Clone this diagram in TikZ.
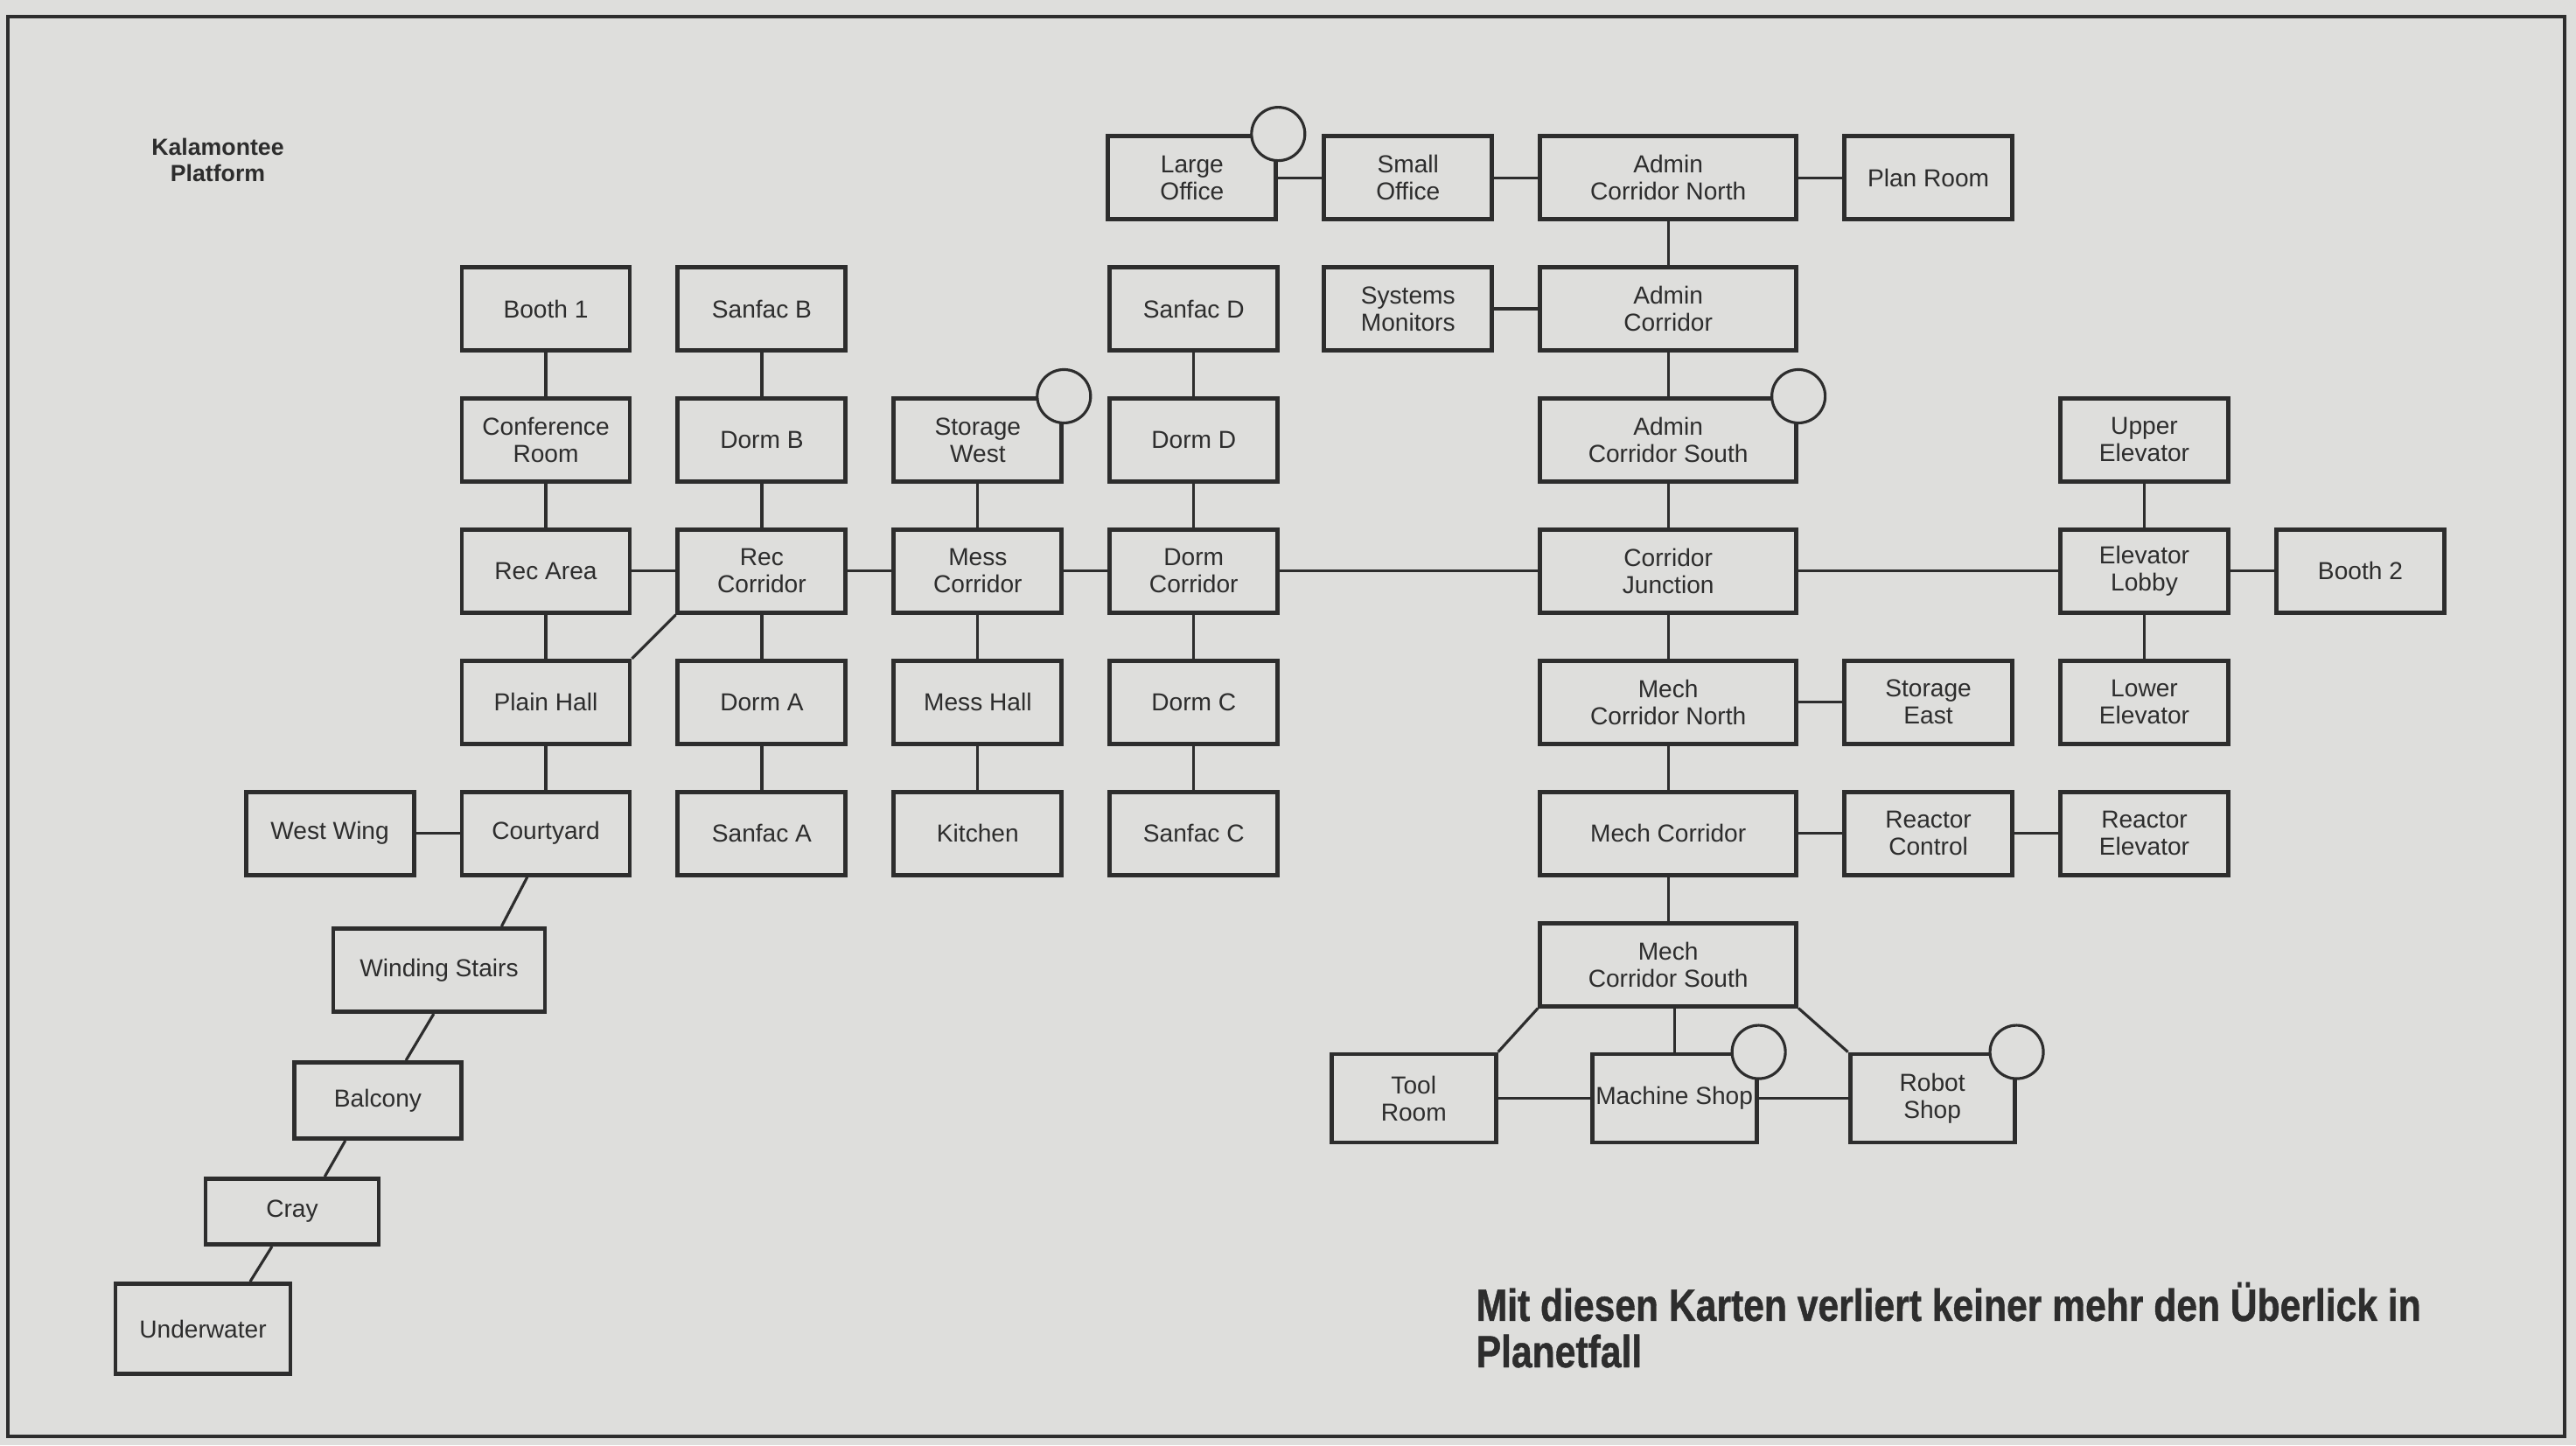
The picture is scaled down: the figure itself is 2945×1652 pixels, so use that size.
\documentclass[tikz,border=0pt]{standalone}
\usepackage{fontspec}
\setmainfont{Liberation Sans}
\newfontfamily\capfont{Liberation Sans}[FakeStretch=0.825, FakeBold=0.8]
\usetikzlibrary{positioning}
\definecolor{paper}{RGB}{222,222,220}
\definecolor{ink}{RGB}{45,45,45}

\begin{document}
\begin{tikzpicture}[
    x=0.1mm, y=-0.1mm,
    node distance=5mm,
    every node/.style={font=\fontsize{8}{8.8}\selectfont, text=ink},
    room/.style={rectangle, draw=ink, line width=1.4pt, minimum width=19.2mm, minimum height=9.5mm, inner sep=1pt, align=center},
    wide/.style={room, minimum width=29.3mm},
    shop/.style={room, minimum width=18.8mm, minimum height=10.1mm},
    lift/.style={circle, draw=ink, line width=0.9pt, fill=paper, minimum size=6.1mm, inner sep=0pt},
    link/.style={draw=ink, line width=0.9pt}
]
    % Paper and frame
    \fill[paper] (0,0) rectangle (2945,1652);
    \draw[ink, line width=1.1pt] (9,19) rectangle (2932,1642);

    \node[align=center, font=\fontsize{7.6}{8.4}\selectfont\bfseries] (title) at (249,183) {Kalamontee\\Platform};

    % Booth 1 column
    \node[room] (booth1) at (624,353) {Booth 1};
    \node[room, below=of booth1] (conf) {Conference\\Room};
    \node[room, below=of conf] (recarea) {Rec Area};
    \node[room, below=of recarea] (plainhall) {Plain Hall};
    \node[room, below=of plainhall] (courtyard) {Courtyard};
    \node[room, left=of courtyard] (westwing) {West Wing};

    % Dorm B column
    \node[room, right=of booth1] (sanfacb) {Sanfac B};
    \node[room, below=of sanfacb] (dormb) {Dorm B};
    \node[room, below=of dormb] (reccorr) {Rec\\Corridor};
    \node[room, below=of reccorr] (dorma) {Dorm A};
    \node[room, below=of dorma] (sanfaca) {Sanfac A};

    % Mess column
    \node[room, right=of dormb] (storwest) {Storage\\West};
    \node[room, below=of storwest] (messcorr) {Mess\\Corridor};
    \node[room, below=of messcorr] (messhall) {Mess Hall};
    \node[room, below=of messhall] (kitchen) {Kitchen};

    % Dorm D column
    \node[room, right=of storwest] (dormd) {Dorm D};
    \node[room, above=of dormd] (sanfacd) {Sanfac D};
    \node[room, below=of dormd] (dormcorr) {Dorm\\Corridor};
    \node[room, below=of dormcorr] (dormc) {Dorm C};
    \node[room, below=of dormc] (sanfacc) {Sanfac C};

    % Corridors
    \node[wide, right=29.5mm of dormcorr] (junction) {Corridor\\Junction};
    \node[wide, above=of junction] (adminsouth) {Admin\\Corridor South};
    \node[wide, above=of adminsouth] (admincorr) {Admin\\Corridor};
    \node[wide, above=of admincorr] (adminnorth) {Admin\\Corridor North};
    \node[wide, below=of junction] (mechnorth) {Mech\\Corridor North};
    \node[wide, below=of mechnorth] (mechcorr) {Mech Corridor};
    \node[wide, below=of mechcorr] (mechsouth) {Mech\\Corridor South};

    % Admin wing
    \node[room, left=of adminnorth] (smalloffice) {Small\\Office};
    \node[room, left=of smalloffice] (largeoffice) {Large\\Office};
    \node[room, right=of adminnorth] (planroom) {Plan Room};
    \node[room, left=of admincorr] (sysmon) {Systems\\Monitors};

    % East side
    \node[room, right=of mechnorth] (storeast) {Storage\\East};
    \node[room, right=of storeast] (lowerelev) {Lower\\Elevator};
    \node[room, above=of lowerelev] (lobby) {Elevator\\Lobby};
    \node[room, above=of lobby] (upperelev) {Upper\\Elevator};
    \node[room, right=of lobby] (booth2) {Booth 2};
    \node[room, right=of mechcorr] (reactctrl) {Reactor\\Control};
    \node[room, right=of reactctrl] (reactelev) {Reactor\\Elevator};

    % Shops
    \node[shop, below=of mechsouth, xshift=0.7mm] (machine) {Machine Shop};
    \node[shop, left=10.5mm of machine] (toolroom) {Tool\\Room};
    \node[shop, right=10.2mm of machine] (robotshop) {Robot\\Shop};

    % Way down
    \node[room, minimum width=24.2mm] (stairs) at (502,1109) {Winding Stairs};
    \node[room, minimum width=19.1mm, minimum height=8.7mm] (balcony) at (432,1258) {Balcony};
    \node[room, minimum width=19.8mm, minimum height=7.5mm] (cray) at (334,1385) {Cray};
    \node[room, minimum width=20mm, minimum height=10.3mm] (underwater) at (232,1519) {Underwater};

    % Vertical links
    \draw[link] (booth1) -- (conf);
    \draw[link] (conf) -- (recarea);
    \draw[link] (recarea) -- (plainhall);
    \draw[link] (plainhall) -- (courtyard);
    \draw[link] (sanfacb) -- (dormb);
    \draw[link] (dormb) -- (reccorr);
    \draw[link] (reccorr) -- (dorma);
    \draw[link] (dorma) -- (sanfaca);
    \draw[link] (storwest) -- (messcorr);
    \draw[link] (messcorr) -- (messhall);
    \draw[link] (messhall) -- (kitchen);
    \draw[link] (sanfacd) -- (dormd);
    \draw[link] (dormd) -- (dormcorr);
    \draw[link] (dormcorr) -- (dormc);
    \draw[link] (dormc) -- (sanfacc);
    \draw[link] (adminnorth) -- (admincorr);
    \draw[link] (admincorr) -- (adminsouth);
    \draw[link] (adminsouth) -- (junction);
    \draw[link] (junction) -- (mechnorth);
    \draw[link] (mechnorth) -- (mechcorr);
    \draw[link] (mechcorr) -- (mechsouth);
    \draw[link] (mechsouth.south -| machine.north) -- (machine.north);
    \draw[link] (upperelev) -- (lobby);
    \draw[link] (lobby) -- (lowerelev);

    % Horizontal links
    \draw[link] (westwing) -- (courtyard);
    \draw[link] (recarea) -- (reccorr);
    \draw[link] (reccorr) -- (messcorr);
    \draw[link] (messcorr) -- (dormcorr);
    \draw[link] (dormcorr) -- (junction);
    \draw[link] (junction) -- (lobby);
    \draw[link] (lobby) -- (booth2);
    \draw[link] (largeoffice) -- (smalloffice);
    \draw[link] (smalloffice) -- (adminnorth);
    \draw[link] (adminnorth) -- (planroom);
    \draw[link] (sysmon) -- (admincorr);
    \draw[link] (mechnorth) -- (storeast);
    \draw[link] (mechcorr) -- (reactctrl);
    \draw[link] (reactctrl) -- (reactelev);
    \draw[link] (toolroom) -- (machine);
    \draw[link] (machine) -- (robotshop);

    % Slanted links
    \draw[link] (reccorr.south west) -- (plainhall.north east);
    \draw[link] (courtyard.-113) -- (stairs.35);
    \draw[link] (stairs.-97) -- (balcony.55);
    \draw[link] (balcony.-129) -- (cray.47);
    \draw[link] (cray.-120) -- (underwater.45);
    \draw[link] (mechsouth.south west) -- (toolroom.north east);
    \draw[link] (mechsouth.south east) -- (robotshop.north west);

    % Circles on corners
    \node[lift] (lift1) at (largeoffice.north east) {};
    \node[lift] (lift2) at (storwest.north east) {};
    \node[lift] (lift3) at (adminsouth.north east) {};
    \node[lift] (lift4) at (machine.north east) {};
    \node[lift] (lift5) at (robotshop.north east) {};

    % Caption
    \node[anchor=base west, align=left, inner sep=0pt, font=\capfont\bfseries\fontsize{14.7}{15.1}\selectfont] (caption) at (1687,1563) {Mit diesen Karten verliert keiner mehr den Überlick in\\Planetfall};
\end{tikzpicture}
\end{document}
